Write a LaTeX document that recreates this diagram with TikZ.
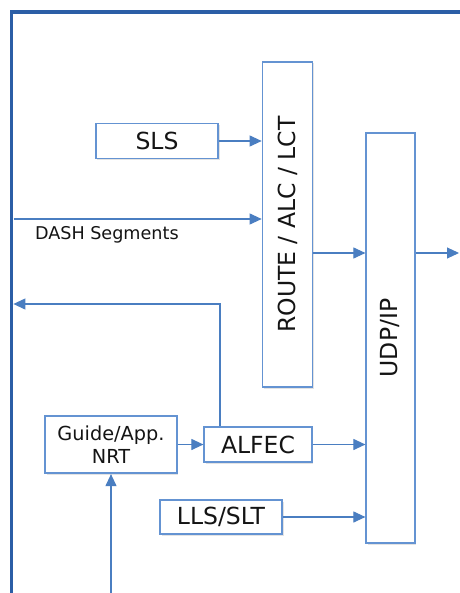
\documentclass[tikz,border=0pt]{standalone}
\usepackage{fontspec}
\setmainfont{DejaVu Sans}
\usetikzlibrary{arrows.meta,shadows,calc}
\definecolor{framec}{RGB}{43,94,166}
\definecolor{boxc}{RGB}{100,147,210}
\definecolor{linec}{RGB}{74,126,193}
\definecolor{txt}{RGB}{20,20,20}
\tikzset{
  box/.style={draw=boxc, line width=1.7pt, fill=white, inner sep=0pt,
    text=txt, drop shadow={opacity=0.22, shadow xshift=1.5pt, shadow yshift=-1.5pt}},
  bigtxt/.style={font=\fontsize{23.5}{28}\selectfont},
  conn/.style={draw=linec, line width=1.1pt, -{Triangle[length=12pt,width=11pt]}},
}
\begin{document}
\begin{tikzpicture}[x=1pt,y=-1pt]
\useasboundingbox (0,0) rectangle (459,593);
\fill[white] (0,0) rectangle (459,593);
% frame
\draw[framec, line width=3.5pt] (462,12) -- (11.7,12) -- (11.7,596);
% boxes
\node[box, minimum width=50pt, minimum height=325pt,
  label={[rotate=90, bigtxt, text=txt]center:ROUTE / ALC / LCT}] (route) at (287.5,224.5) {};
\node[box, minimum width=48.5pt, minimum height=410.5pt,
  label={[rotate=90, bigtxt, text=txt]center:UDP/IP}] (udp) at (390.5,338) {};
\node[box, bigtxt, minimum width=122.5pt, minimum height=35pt] (sls) at (157,141) {SLS};
\node[box, align=center, font=\fontsize{19.3}{23}\selectfont,
  minimum width=131.5pt, minimum height=57.5pt] (guide) at (111,444.5) {Guide/App.\\NRT};
\node[box, bigtxt, minimum width=107.5pt, minimum height=35.5pt] (alfec) at (258,444.5) {ALFEC};
\node[box, bigtxt, minimum width=122pt, minimum height=34pt] (lls) at (221,517) {LLS/SLT};
% coordinates
\coordinate (dashs) at (13.5,219);
\coordinate (fbx) at (220,304);
\coordinate (fbend) at (13.4,304);
\coordinate (rtu) at (312.5,253);
\coordinate (outend) at (459,253);
\coordinate (bot) at (111,596);
% connectors
\draw[conn] (sls.east) -- (sls.east -| route.west);
\draw[conn] (dashs) -- (dashs -| route.west);
\node[font=\fontsize{17.6}{21}\selectfont, text=txt, anchor=west] (dashlbl) at (31.5,234.5) {DASH Segments};
\draw[conn] (alfec.north -| fbx) -- (fbx) -- (fbend);
\draw[conn] (rtu) -- (rtu -| udp.west);
\draw[conn] (rtu -| udp.east) -- (outend);
\draw[conn] (guide.east) -- (alfec.west);
\draw[conn] (alfec.east) -- (alfec.east -| udp.west);
\draw[conn] (lls.east) -- (lls.east -| udp.west);
\draw[conn] (bot) -- (guide.south);
\end{tikzpicture}
\end{document}
